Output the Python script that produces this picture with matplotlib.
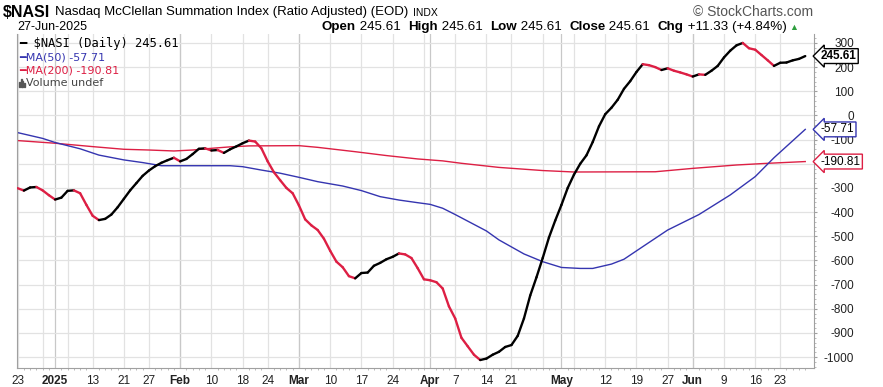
import numpy as np
import pandas as pd
import matplotlib
matplotlib.use('Agg')
from matplotlib import pyplot as plt
from matplotlib.collections import LineCollection
from matplotlib.patches import Rectangle

# trading days 23-Dec-2024 .. 27-Jun-2025
holidays = ['2024-12-25', '2025-01-01', '2025-01-09', '2025-01-20', '2025-02-17',
            '2025-04-18', '2025-05-26', '2025-06-19']
days = pd.bdate_range('2024-12-23', '2025-06-27')
days = days[~days.isin(pd.to_datetime(holidays))]

# $NASI daily close
nasi = [-301, -311, -298, -296, -310, -330, -348, -340, -312, -310,
        -322, -370, -415, -433, -428, -410, -380, -345, -310, -280,
        -250, -228, -210, -196, -185, -175, -190, -180, -160, -138,
        -136, -145, -143, -155, -140, -128, -115, -104, -108, -136,
        -190, -235, -268, -300, -322, -372, -430, -455, -474, -510,
        -560, -605, -628, -665, -674, -652, -650, -622, -610, -595,
        -585, -571, -575, -590, -632, -678, -682, -690, -716, -790,
        -840, -920, -955, -990, -1012, -1006, -990, -978, -958, -950,
        -912, -840, -745, -670, -590, -505, -435, -370, -300, -245,
        -200, -165, -110, -45, 5, 32, 65, 110, 142, 180,
        212, 208, 200, 188, 195, 185, 178, 170, 161, 170,
        168, 185, 205, 240, 268, 290, 300, 278, 272, 250,
        228, 205, 218, 219, 228, 234, 245.61]

# moving averages, sampled at trading-day numbers
ma50_day = [0, 4, 6, 10, 13, 17, 20, 23, 34, 36, 39, 42, 45, 48, 52, 55, 58, 61, 64,
            66, 68, 70, 75, 77, 81, 84, 87, 90, 92, 95, 97, 100, 104, 109, 114, 118, 121, 126]
ma50 = [-71, -95, -112, -138, -164, -184, -195, -208, -208, -212, -226, -239, -256, -274,
        -292, -311, -336, -350, -361, -368, -384, -410, -478, -515, -573, -605, -629, -633,
        -633, -615, -595, -543, -474, -410, -329, -253, -175, -57.71]
ma200_day = [0, 6, 12, 17, 21, 25, 28, 31, 34, 37, 45, 48, 54, 59, 64, 68, 71, 77, 84,
             89, 102, 108, 115, 120, 126]
ma200 = [-104, -115, -129, -140, -143, -147, -143, -136, -130, -126, -125, -132, -150,
         -166, -180, -188, -198, -215, -228, -234, -233, -219, -205, -198, -190.81]

tick_dates = ['2024-12-23', '2025-01-02', '2025-01-13', '2025-01-21', '2025-01-27',
              '2025-02-03', '2025-02-10', '2025-02-18', '2025-02-24', '2025-03-03',
              '2025-03-10', '2025-03-17', '2025-03-24', '2025-04-01', '2025-04-07',
              '2025-04-14', '2025-04-21', '2025-05-01', '2025-05-12', '2025-05-19',
              '2025-05-27', '2025-06-02', '2025-06-09', '2025-06-16', '2025-06-23']
tick_labels = ['23', '2025', '13', '21', '27', 'Feb', '10', '18', '24', 'Mar', '10', '17',
               '24', 'Apr', '7', '14', '21', 'May', '12', '19', '27', 'Jun', '9', '16', '23']
bold_labels = ['2025', 'Feb', 'Mar', 'Apr', 'May', 'Jun']

last = 245.61
chg, chg_pct = 11.33, 4.84

RED = '#dd1f44'
BLUE = '#3535b0'
W, H = 883, 387

plt.rcParams['font.family'] = ['Liberation Sans', 'DejaVu Sans']

fig = plt.figure(figsize=(W / 100, H / 100), dpi=100)
ax = fig.add_axes([17 / W, 1 - 368 / H, (814 - 17) / W, (368 - 34) / H])

x = np.arange(len(days))
pos = pd.Series(x, index=days)

# grid: weekly lines, darker at month starts
wk = days.isocalendar().week.values
week_start = days[np.r_[True, wk[1:] != wk[:-1]]]
month_start = days[np.r_[True, days.month[1:] != days.month[:-1]]]
for d in week_start:
    ax.axvline(pos[d], color='#e2e2e2', lw=0.9, zorder=0)
for d in month_start[1:]:
    ax.axvline(pos[d], color='#c8c8c8', lw=0.9, zorder=0)
for v in range(-1000, 301, 100):
    ax.axhline(v, color='#e2e2e2', lw=0.9, zorder=0)

# moving averages
ax.plot(ma200_day, ma200, color=RED, lw=1.0, zorder=2)
ax.plot(ma50_day, ma50, color=BLUE, lw=1.0, zorder=2)

# price line, black on up days, red on down days
pts = np.column_stack([x, nasi])
segs = np.stack([pts[:-1], pts[1:]], axis=1)
cols = ['black' if b >= a else RED for a, b in zip(nasi[:-1], nasi[1:])]
ax.add_collection(LineCollection(segs, colors=cols, linewidths=1.7, capstyle='round',
                                 joinstyle='round', zorder=3))

ax.set_xlim(-0.1, 127.4)
ax.set_ylim(-1045, 337)

# axes styling
for s in ['left', 'right', 'bottom']:
    ax.spines[s].set_color('#a0a0a0')
    ax.spines[s].set_linewidth(0.8)
ax.spines['top'].set_visible(False)

yt = list(range(-1000, 301, 100))
ax.yaxis.tick_right()
ax.set_yticks(yt)
# -200 sits under the MA(200) tag in the original
ax.set_yticklabels(['' if v == -200 else str(v) for v in yt])
ax.set_yticks(range(-1040, 340, 20), minor=True)
ax.tick_params(axis='y', which='major', length=2, pad=27, labelsize=8.5, colors='#a0a0a0',
               labelcolor='#222222')
ax.tick_params(axis='y', which='minor', length=1.5, colors='#b0b0b0')
for lab in ax.get_yticklabels():
    lab.set_horizontalalignment('right')

ax.set_xticks([pos[pd.Timestamp(d)] for d in tick_dates])
ax.set_xticklabels(tick_labels)
ax.set_xticks(x, minor=True)
ax.tick_params(axis='x', which='major', length=0, pad=5, labelsize=8.5, labelcolor='#222222')
ax.tick_params(axis='x', which='minor', length=1.5, colors='#b0b0b0')
for lab in ax.get_xticklabels():
    if lab.get_text() in bold_labels:
        lab.set_fontweight('bold')

# value tags on the right
tags = [(last, 'black', 'bold'), (ma50[-1], BLUE, 'normal'), (ma200[-1], RED, 'normal')]
for val, c, fw in tags:
    ax.annotate(f'{val:.2f}', xy=(1.0, val), xycoords=('axes fraction', 'data'),
                xytext=(5, 0), textcoords='offset points', ha='left', va='center',
                fontsize=8.5, fontweight=fw, color='black', annotation_clip=False, zorder=6,
                bbox=dict(boxstyle='larrow,pad=0.12', fc='white', ec=c, lw=1.0))

# in-chart legend
fx = lambda px: px / W
fy = lambda py: 1 - py / H
fig.text(fx(19), fy(43), '\u2501 $NASI (Daily) %.2f' % last, color='black', fontsize=8.7,
         va='center', family=['DejaVu Sans Mono'])
leg = [('\u2501MA(50) %.2f' % ma50[-1], BLUE),
       ('\u2501MA(200) %.2f' % ma200[-1], RED)]
for i, (t, c) in enumerate(leg):
    fig.text(fx(19), fy(57 + 13.5 * i), t, color=c, fontsize=8, va='center',
             family=['DejaVu Sans'])
for i, hgt in enumerate([5, 8, 6, 4]):
    fig.add_artist(Rectangle((fx(19 + 1.6 * i), fy(87)), 1.2 / W, hgt / H,
                             color='#555555', transform=fig.transFigure))
fig.text(fx(26), fy(83.5), 'Volume undef', color='#444444', fontsize=8, va='center',
         family=['DejaVu Sans'])

# header
r = fig.canvas.get_renderer()
t1 = fig.text(fx(3), fy(12.5), '$NASI', fontsize=11.5, fontweight='bold', va='center')
cx = 3 + t1.get_window_extent(r).width + 5
t2 = fig.text(fx(cx), fy(12.5), 'Nasdaq McClellan Summation Index (Ratio Adjusted) (EOD)',
              fontsize=9.5, va='center')
cx += t2.get_window_extent(r).width + 5
fig.text(fx(cx), fy(12.5), 'INDX', fontsize=7.5, va='center')
fig.text(fx(813), fy(12), '\u00a9 StockCharts.com', fontsize=10, color='#555555',
         ha='right', va='center')
fig.text(fx(17), fy(27), '27-Jun-2025', fontsize=9, va='center')

pieces = [('Open', True), (' %.2f  ' % last, False), ('High', True), (' %.2f  ' % last, False),
          ('Low', True), (' %.2f  ' % last, False), ('Close', True), (' %.2f  ' % last, False),
          ('Chg', True), (' +%.2f (+%.2f%%)' % (chg, chg_pct), False)]
cx = 322
for t, b in pieces:
    txt = fig.text(fx(cx), fy(27), t, fontsize=9.6, fontweight='bold' if b else 'normal',
                   va='center')
    cx += txt.get_window_extent(r).width
fig.text(fx(cx + 3), fy(27), '\u25b2', fontsize=6.5, color='#2e9e3e', va='center')

fig.savefig('out.png', dpi=100)
